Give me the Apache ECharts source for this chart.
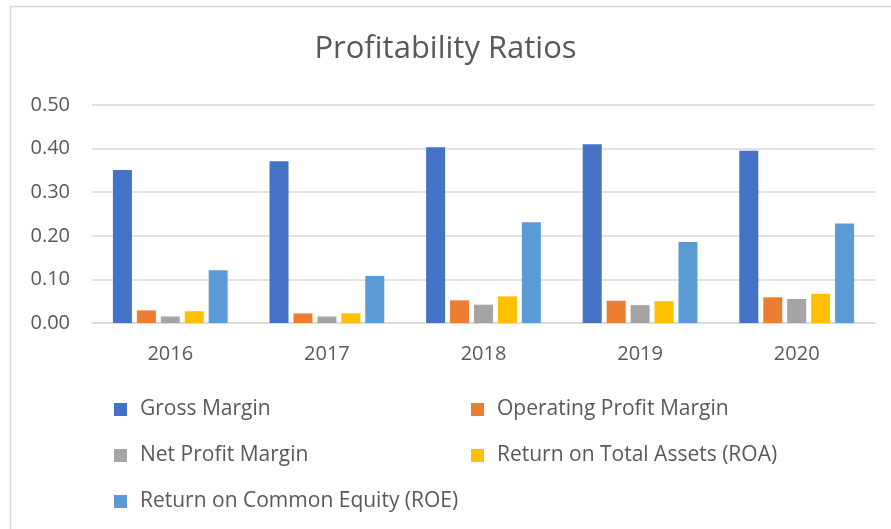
<!doctype html>
<html>
<head>
<meta charset="utf-8">
<title>Profitability Ratios</title>
<script src="https://cdn.jsdelivr.net/npm/echarts@6/dist/echarts.min.js"></script>
<style>
  html, body { margin: 0; padding: 0; background: #fff; }
  #chart { width: 891px; height: 529px; }
</style>
</head>
<body>
<div id="chart"></div>
<script>
// years on the x axis
var years = ['2016', '2017', '2018', '2019', '2020'];
// ratios
var grossMargin = [0.351, 0.371, 0.403, 0.410, 0.395];
var operatingMargin = [0.029, 0.022, 0.052, 0.051, 0.059];
var netMargin = [0.015, 0.015, 0.042, 0.041, 0.055];
var roa = [0.027, 0.022, 0.061, 0.050, 0.067];
var roe = [0.121, 0.108, 0.231, 0.186, 0.228];

var names = ['Gross Margin', 'Operating Profit Margin', 'Net Profit Margin',
             'Return on Total Assets (ROA)', 'Return on Common Equity (ROE)'];
var colors = ['#4472C4', '#ED7D31', '#A5A5A5', '#FFC000', '#5B9BD5'];
var values = [grossMargin, operatingMargin, netMargin, roa, roe];

var font = '"Open Sans", Lato, sans-serif';
var textColor = '#595959';

var chart = echarts.init(document.getElementById('chart'));

function legendBlock(left, data) {
  return {
    orient: 'vertical',
    left: left,
    top: 394,
    itemWidth: 13,
    itemHeight: 13,
    itemGap: 25,
    icon: 'rect',
    data: data,
    selectedMode: false,
    textStyle: {
      fontFamily: font,
      fontSize: 21,
      color: textColor,
      lineHeight: 20,
      padding: [0, 0, 0, 8]
    }
  };
}

chart.setOption({
  animation: false,
  color: colors,
  title: {
    text: 'Profitability Ratios',
    left: 'center',
    top: 29,
    textStyle: { fontFamily: font, fontSize: 31, fontWeight: 'normal', color: textColor }
  },
  graphic: [{
    type: 'rect',
    shape: { x: 10.5, y: 6.5, width: 900, height: 600 },
    style: { fill: 'none', stroke: '#d9d9d9', lineWidth: 1.5 },
    silent: true
  }],
  legend: [
    legendBlock(109, [names[0], names[2], names[4]]),
    legendBlock(466, [names[1], names[3]])
  ],
  grid: { left: 92, right: 16, top: 105, bottom: 206 },
  xAxis: {
    type: 'category',
    data: years,
    axisLine: { lineStyle: { color: '#d9d9d9', width: 1.5 } },
    axisTick: { show: false },
    axisLabel: { fontFamily: font, fontSize: 20, color: textColor, margin: 21 }
  },
  yAxis: {
    type: 'value',
    min: 0,
    max: 0.5,
    interval: 0.1,
    axisLine: { show: false },
    axisTick: { show: false },
    splitLine: { lineStyle: { color: '#d9d9d9', width: 1.5 } },
    axisLabel: {
      fontFamily: font, fontSize: 20, color: textColor, margin: 22,
      formatter: function (v) { return v.toFixed(2); }
    }
  },
  series: values.map(function (v, i) {
    return {
      name: names[i],
      type: 'bar',
      data: v,
      barWidth: 19,
      barGap: '26%',
      itemStyle: { color: colors[i] }
    };
  })
});
</script>
</body>
</html>
